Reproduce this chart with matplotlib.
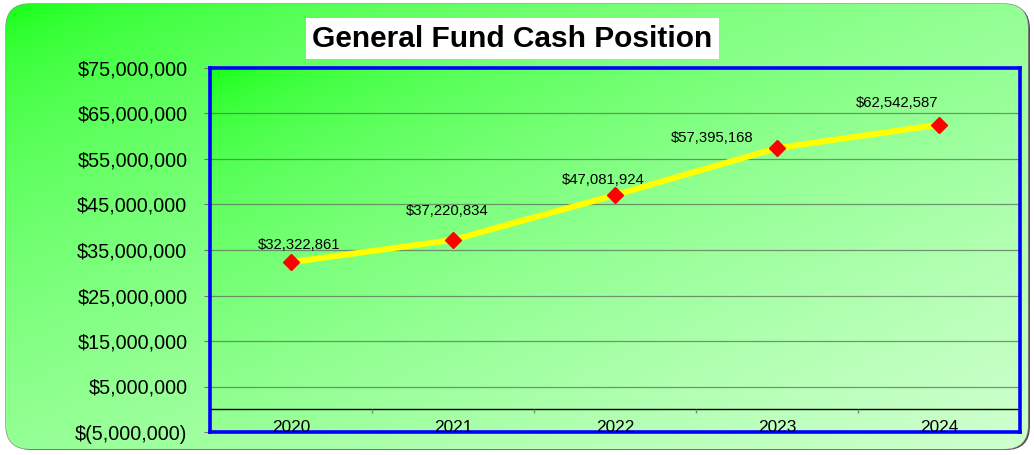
import matplotlib.pyplot as plt
from matplotlib.patches import FancyBboxPatch
from matplotlib.ticker import FuncFormatter
import numpy as np

years = ['2020', '2021', '2022', '2023', '2024']
cash = [32322861, 37220834, 47081924, 57395168, 62542587]

# hand placed label offsets (pixels), like the original
label_dx = [8, -6, -12, -65, -42]
label_dy = [17, 29, 15, 10, 22]

plt.rcParams['font.family'] = ['Liberation Sans', 'DejaVu Sans']

W, H = 1034, 455
fig = plt.figure(figsize=(W / 100, H / 100), dpi=100)
fig.patch.set_facecolor('white')


def gradient(nx, ny):
    xx, yy = np.meshgrid(np.linspace(0, 1, nx), np.linspace(0, 1, ny))
    t = np.clip((xx + yy) / 2, 0, 1) ** 0.5
    c0 = np.array([10, 255, 10]) / 255
    c1 = np.array([205, 255, 205]) / 255
    return c0 + (c1 - c0) * t[..., None]


# background panel with rounded corners
bg = fig.add_axes([0, 0, 1, 1], zorder=-5)
bg.set_xlim(0, W)
bg.set_ylim(H, 0)
bg.axis('off')
shadow = FancyBboxPatch((8, 5), W - 12, H - 10, boxstyle='round,pad=0,rounding_size=24',
                        facecolor='#505050', edgecolor='none')
bg.add_patch(shadow)
panel = FancyBboxPatch((6, 4), W - 12, H - 10, boxstyle='round,pad=0,rounding_size=24',
                       facecolor='none', edgecolor='#8a8a8a', lw=1)
bg.add_patch(panel)
im = bg.imshow(gradient(300, 150), extent=(6, W - 6, H - 6, 4), aspect='auto', zorder=1)
im.set_clip_path(panel)

# title
fig.text(0.4953, 0.915, 'General Fund Cash Position', ha='center', va='center',
         fontsize=21.5, fontweight='bold', color='black',
         bbox=dict(facecolor='white', edgecolor='none', pad=4.5))

ax = fig.add_axes([210 / W, 23 / H, 810 / W, 364 / H])
x = np.arange(len(years))
ax.set_xlim(-0.5, len(years) - 0.5)
ax.set_ylim(-5e6, 75e6)
ax.imshow(gradient(300, 150), extent=(-0.5, len(years) - 0.5, -5e6, 75e6),
          aspect='auto', zorder=0, origin='upper')

yt = np.arange(-5e6, 75e6 + 1, 10e6)
ax.set_yticks(yt)
ax.yaxis.grid(True, color='#5f6f5f', lw=0.9, alpha=0.75)
ax.set_axisbelow(True)


def money(v, pos):
    if v < 0:
        return '$({:,.0f})'.format(-v)
    return '${:,.0f}'.format(v)


ax.yaxis.set_major_formatter(FuncFormatter(money))
ax.tick_params(axis='y', length=4.3, color='#707070', labelsize=14.2, pad=12)
ax.set_xticks([])

ax.axhline(0, color='black', lw=1, zorder=1)
ax.vlines(x[:-1] + 0.5, -0.9e6, 0, color='#7a8a7a', lw=1, zorder=1)

for sp in ax.spines.values():
    sp.set_color('#0000ff')
    sp.set_linewidth(2.6)
    sp.set_zorder(3)

ax.plot(x, cash, color='#ffff00', lw=4.3, zorder=4, solid_capstyle='round')
ax.plot(x, cash, 'D', color='#ff0000', ms=8, zorder=5)

for i in range(len(years)):
    ax.annotate('${:,.0f}'.format(cash[i]), (x[i], cash[i]),
                xytext=(label_dx[i], label_dy[i]), textcoords='offset pixels',
                ha='center', va='center', fontsize=10.7, color='black', zorder=6)
    ax.text(x[i], -4.0e6, years[i], ha='center', va='center', fontsize=12.4,
            color='black', zorder=6, clip_on=False)

fig.savefig('out.png', dpi=100)
